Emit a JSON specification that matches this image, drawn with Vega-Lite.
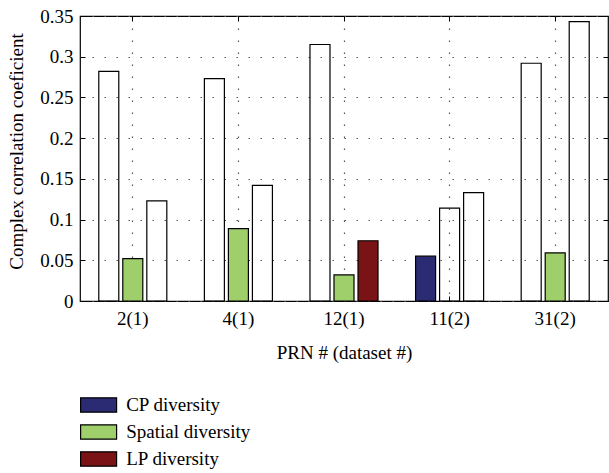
{
  "$schema": "https://vega.github.io/schema/vega-lite/v6.json",
  "width": 528,
  "height": 285,
  "autosize": {"type": "none"},
  "padding": {"left": 80, "top": 16, "right": 1, "bottom": 172},
  "config": {
    "view": {"stroke": "black", "strokeWidth": 1.2},
    "font": "Liberation Serif",
    "axis": {
      "labelFont": "Liberation Serif",
      "titleFont": "Liberation Serif",
      "labelFontSize": 19,
      "titleFontSize": 19,
      "titleFontWeight": "normal",
      "labelColor": "black",
      "titleColor": "black",
      "tickColor": "black",
      "domain": false,
      "gridDash": [1.5, 10.5],
      "gridColor": "#555",
      "gridWidth": 1.2
    }
  },
  "data": {
    "values": [
      {"prn": "2(1)", "slot": 1, "type": "none", "value": 0.282},
      {"prn": "2(1)", "slot": 2, "type": "Spatial diversity", "value": 0.052},
      {"prn": "2(1)", "slot": 3, "type": "none", "value": 0.123},
      {"prn": "4(1)", "slot": 1, "type": "none", "value": 0.273},
      {"prn": "4(1)", "slot": 2, "type": "Spatial diversity", "value": 0.089},
      {"prn": "4(1)", "slot": 3, "type": "none", "value": 0.142},
      {"prn": "12(1)", "slot": 1, "type": "none", "value": 0.315},
      {"prn": "12(1)", "slot": 2, "type": "Spatial diversity", "value": 0.032},
      {"prn": "12(1)", "slot": 3, "type": "LP diversity", "value": 0.074},
      {"prn": "11(2)", "slot": 1, "type": "CP diversity", "value": 0.055},
      {"prn": "11(2)", "slot": 2, "type": "none", "value": 0.114},
      {"prn": "11(2)", "slot": 3, "type": "none", "value": 0.133},
      {"prn": "31(2)", "slot": 1, "type": "none", "value": 0.292},
      {"prn": "31(2)", "slot": 2, "type": "Spatial diversity", "value": 0.059},
      {"prn": "31(2)", "slot": 3, "type": "none", "value": 0.343}
    ]
  },
  "layer": [
    {
      "mark": {"type": "bar", "stroke": "black", "strokeWidth": 1.2},
      "encoding": {
        "x": {
          "field": "prn", "type": "nominal",
          "sort": ["2(1)", "4(1)", "12(1)", "11(2)", "31(2)"],
          "scale": {"paddingInner": 0.318, "paddingOuter": 0.159},
          "axis": {
            "orient": "bottom", "title": "PRN # (dataset #)", "labelAngle": 0,
            "grid": true, "bandPosition": 0.5, "tickSize": -5, "labelPadding": 13,
            "titleX": 264, "titleY": 51, "titleBaseline": "middle", "titleAlign": "center"
          }
        },
        "xOffset": {
          "field": "slot", "type": "ordinal",
          "scale": {"paddingInner": 0.167, "paddingOuter": 0.083}
        },
        "y": {
          "field": "value", "type": "quantitative",
          "scale": {"domain": [0, 0.35], "nice": false},
          "axis": {
            "orient": "left", "title": "Complex correlation coeficient",
            "values": [0, 0.05, 0.1, 0.15, 0.2, 0.25, 0.3, 0.35], "format": "~g",
            "grid": true, "tickSize": -5, "labelPadding": 12,
            "titleX": -64, "titleY": 135, "titleBaseline": "middle", "titleAlign": "center", "titleAngle": -90
          }
        },
        "fill": {
          "field": "type", "type": "nominal",
          "scale": {
            "domain": ["CP diversity", "Spatial diversity", "LP diversity", "none"],
            "range": ["#2b2b74", "#9fcf6b", "#7a1316", "transparent"]
          },
          "legend": {
            "values": ["CP diversity", "Spatial diversity", "LP diversity"],
            "orient": "none", "legendX": 3.6, "legendY": 374, "title": null,
            "padding": 0,
            "symbolType": "M-1.25,-0.5H1.25V0.5H-1.25Z", "symbolSize": 828,
            "symbolStrokeColor": "black", "symbolStrokeWidth": 1.2,
            "labelFont": "Liberation Serif", "labelFontSize": 19, "labelColor": "black",
            "labelOffset": 12.6, "rowPadding": 2
          }
        }
      }
    },
    {
      "mark": {"type": "bar", "opacity": 0},
      "encoding": {
        "x": {
          "field": "prn", "type": "nominal",
          "sort": ["2(1)", "4(1)", "12(1)", "11(2)", "31(2)"],
          "axis": {"orient": "top", "title": null, "labels": false, "grid": false, "bandPosition": 0.5, "tickSize": -5}
        },
        "xOffset": {"field": "slot", "type": "ordinal"},
        "y": {
          "field": "value", "type": "quantitative",
          "axis": {"orient": "right", "title": null, "labels": false, "grid": false,
                   "values": [0, 0.05, 0.1, 0.15, 0.2, 0.25, 0.3, 0.35], "tickSize": -5}
        }
      }
    }
  ],
  "resolve": {"axis": {"x": "independent", "y": "independent"}}
}
